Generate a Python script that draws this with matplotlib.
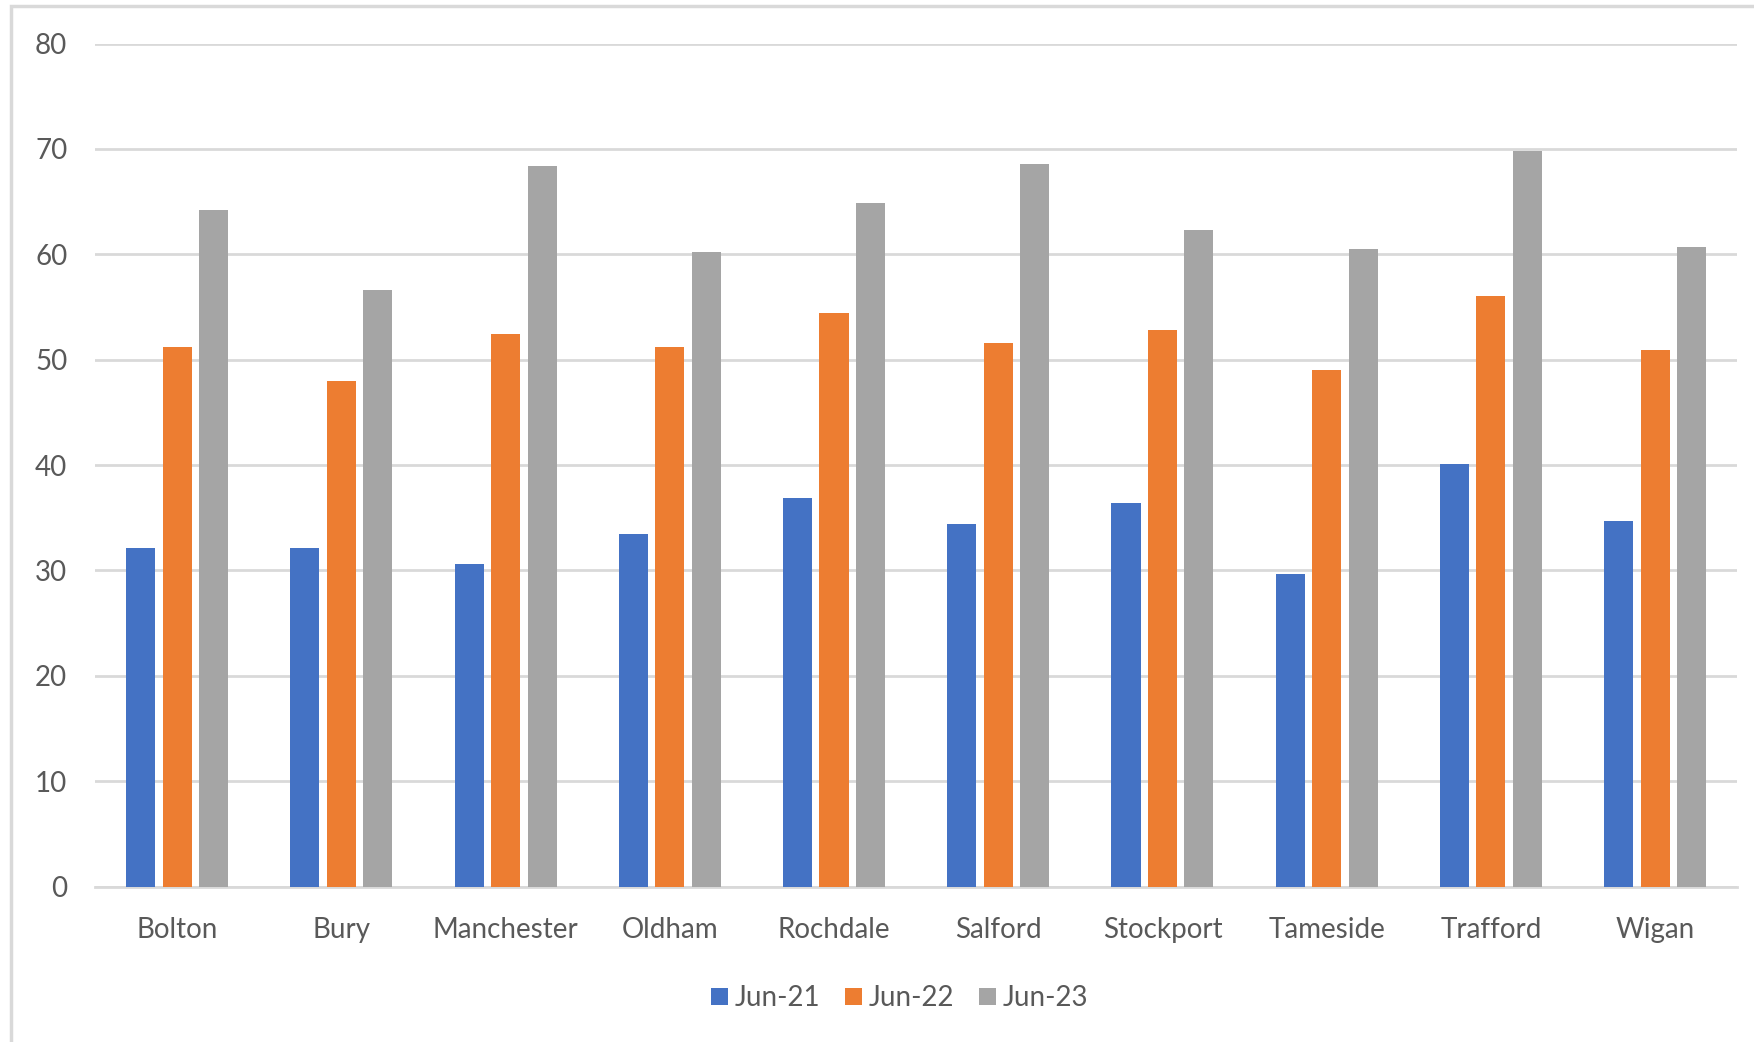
import matplotlib
matplotlib.use("Agg")
import matplotlib.pyplot as plt
import numpy as np
from matplotlib.patches import Rectangle

categories = ["Bolton", "Bury", "Manchester", "Oldham", "Rochdale", "Salford",
              "Stockport", "Tameside", "Trafford", "Wigan"]
jun21 = [32.1, 32.1, 30.6, 33.5, 36.9, 34.4, 36.4, 29.7, 40.1, 34.7]
jun22 = [51.2, 48.0, 52.4, 51.2, 54.4, 51.6, 52.8, 49.0, 56.0, 50.9]
jun23 = [64.2, 56.6, 68.4, 60.2, 64.9, 68.6, 62.3, 60.5, 69.8, 60.7]
series_names = ["Jun-21", "Jun-22", "Jun-23"]
colors = ["#4472C4", "#ED7D31", "#A5A5A5"]
yticks = [0, 10, 20, 30, 40, 50, 60, 70, 80]

plt.rcParams['font.family'] = ['Lato', 'DejaVu Sans']
text_color = "#595959"

fig = plt.figure(figsize=(17.54, 10.42), dpi=100)
ax = fig.add_axes([0.0542, 0.1491, 0.9362, 0.8091])

x = np.arange(len(categories))
bw = 0.177
step = 0.222
for i, (vals, name, c) in enumerate(zip([jun21, jun22, jun23], series_names, colors)):
    ax.bar(x + (i - 1) * step, vals, width=bw, color=c, label=name, zorder=3)

ax.set_xlim(-0.5, len(categories) - 0.5)
ax.set_ylim(0, 80)
ax.set_yticks(yticks)
ax.set_yticklabels([str(t) for t in yticks])
ax.set_xticks(x)
ax.set_xticklabels(categories)
ax.tick_params(axis='both', length=0, labelsize=20, labelcolor=text_color)
ax.tick_params(axis='y', pad=20)
ax.tick_params(axis='x', pad=22)
ax.grid(axis='y', color="#D9D9D9", linewidth=2, zorder=0)
for s in ["top", "right", "left"]:
    ax.spines[s].set_visible(False)
ax.spines["bottom"].set_color("#D9D9D9")
ax.spines["bottom"].set_linewidth(2)

leg = fig.legend(loc="center", bbox_to_anchor=(0.513, 0.042), ncol=3, frameon=False,
                 fontsize=20, handlelength=0.6, handleheight=0.6, handletextpad=0.25,
                 columnspacing=0.9)
for t in leg.get_texts():
    t.set_color(text_color)

# outer chart border
fig.patches.append(Rectangle((0.0064, -0.05), 1.2, 1.0446, transform=fig.transFigure,
                             fill=False, edgecolor="#D9D9D9", linewidth=2.5))

fig.savefig("out.png", dpi=100, facecolor="white")
